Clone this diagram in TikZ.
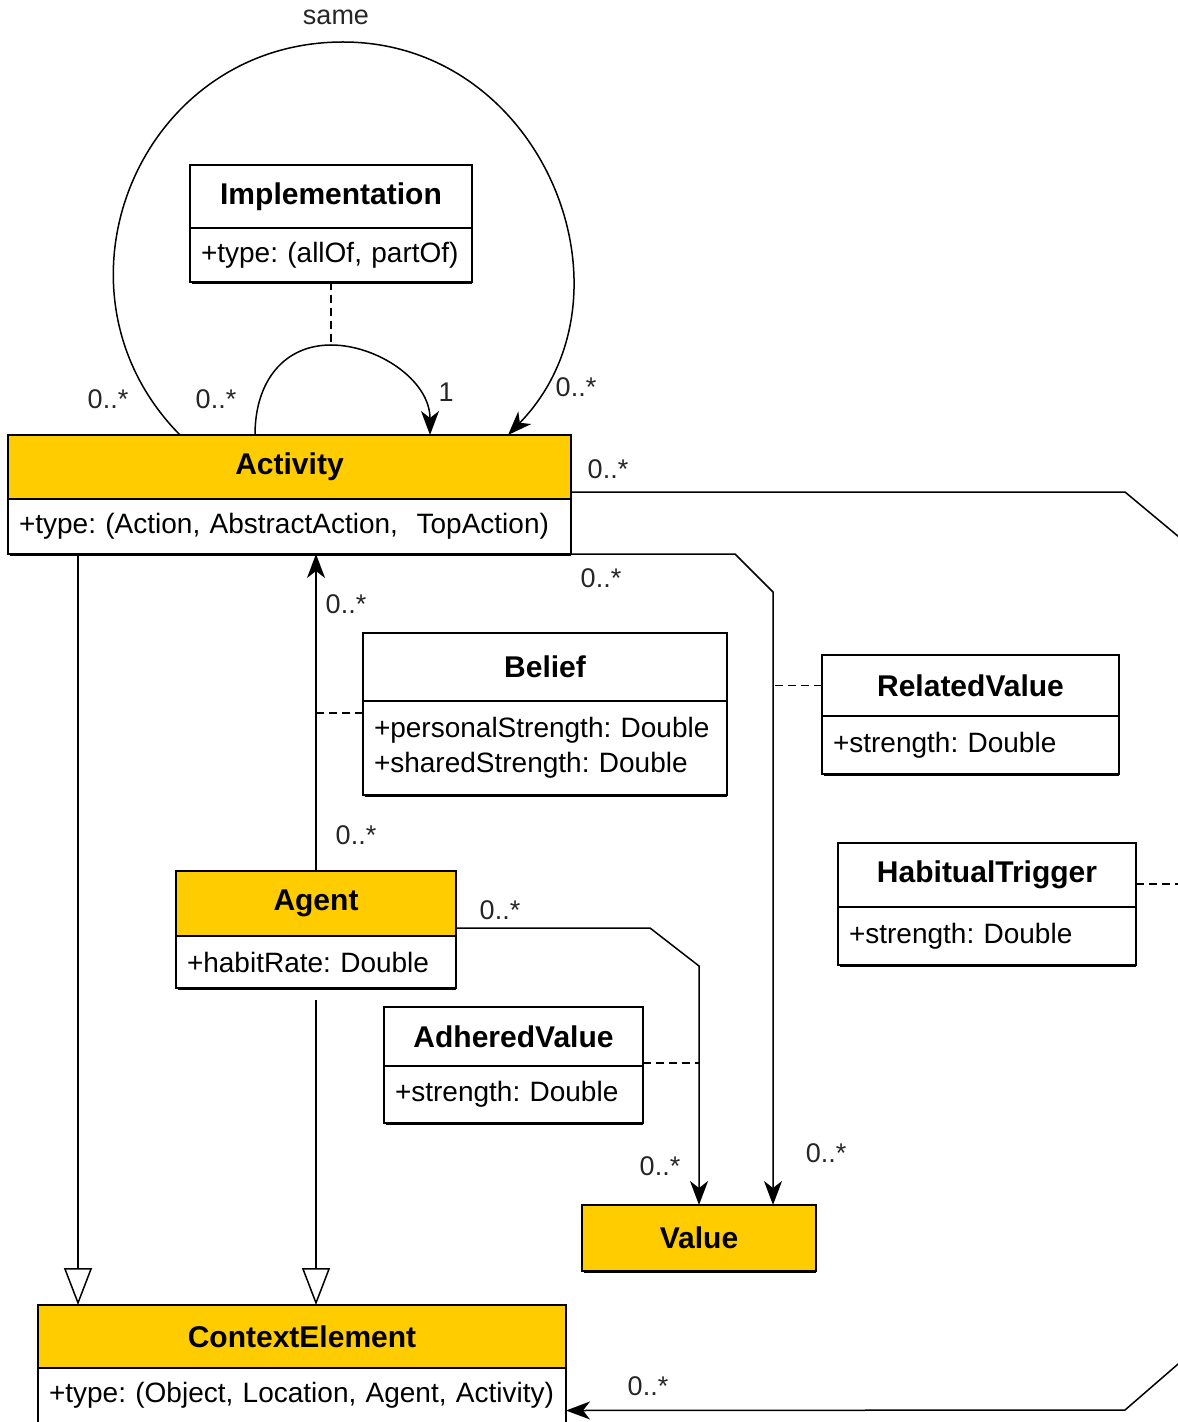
\documentclass[tikz,border=0pt]{standalone}
\usepackage{fontspec}
\setmainfont{Liberation Sans}
\usepackage{tikz}
\usetikzlibrary{arrows.meta,positioning}
\definecolor{clsyellow}{RGB}{255,204,0}

\begin{document}
\begin{tikzpicture}[x=0.5pt,y=-0.5pt,line width=0.75pt,
head/.style n args={3}{draw,line width=1pt,fill=#1,anchor=north west,outer sep=0pt,inner sep=0pt,minimum width=#2,minimum height=#3,font=\fontsize{15}{18}\selectfont\bfseries},
body/.style n args={2}{draw,line width=1pt,fill=white,anchor=north west,outer sep=0pt,inner xsep=5.5pt,inner ysep=0pt,text width=#1,minimum height=#2,align=left,font=\fontsize{14}{17.5}\selectfont\frenchspacing},
mult/.style={font=\fontsize{13.5}{16}\selectfont,text=black!85,inner sep=0pt},
assoc/.style={-{Stealth[length=12pt,width=9pt,inset=3.5pt]}},
gen/.style={-{Triangle[open,length=18.5pt,width=14pt]}},
link/.style={dash pattern=on 4pt off 2.5pt}]
\useasboundingbox (0,0) rectangle (1177,1422);

% classes
\node[head={white}{141pt}{31.5pt}] (impl) at (190,165) {Implementation};
\node[body={130pt}{27pt}] (impl-a) at (impl.south west) {+type: (allOf, partOf)};
\node[head={clsyellow}{281.5pt}{32pt}] (act) at (8,435) {Activity};
\node[body={270.5pt}{27.5pt}] (act-a) at (act.south west) {+type: (Action, AbstractAction,~ TopAction)};
\node[head={white}{182pt}{34pt}] (bel) at (363,633) {Belief};
\node[body={171pt}{47pt}] (bel-a) at (bel.south west) {+personalStrength: Double\\+sharedStrength: Double};
\node[head={white}{148.5pt}{30.5pt}] (rv) at (822,655) {RelatedValue};
\node[body={137.5pt}{29pt}] (rv-a) at (rv.south west) {+strength: Double};
\node[head={white}{149pt}{32pt}] (ht) at (838,843) {HabitualTrigger};
\node[body={138pt}{29pt}] (ht-a) at (ht.south west) {+strength: Double};
\node[head={clsyellow}{140pt}{32.5pt}] (ag) at (176,871) {Agent};
\node[body={129pt}{26pt}] (ag-a) at (ag.south west) {+habitRate: Double};
\node[head={white}{129.5pt}{29.5pt}] (adv) at (384,1007) {AdheredValue};
\node[body={118.5pt}{28.5pt}] (adv-a) at (adv.south west) {+strength: Double};
\node[head={clsyellow}{117pt}{33pt}] (val) at (582,1205) {Value};
\node[head={clsyellow}{264pt}{31.5pt}] (ctx) at (38,1305) {ContextElement};
\node[body={253pt}{27.5pt}] (ctx-a) at (ctx.south west) {+type: (Object, Location, Agent, Activity)};

% heavier bottom edges
\foreach \c in {impl-a,act-a,bel-a,rv-a,ht-a,ag-a,adv-a,val,ctx-a} {
   \draw[line width=1.2pt] ([xshift=1pt,yshift=-0.6pt]\c.south west) -- ([yshift=-0.6pt]\c.south east);
}

% self association of Activity
\coordinate (sametop) at (343,42);
\draw[assoc] ([xshift=86pt]act.north west) .. controls +(-143,-145) and +(-204,0) .. (sametop)
   .. controls +(200,0) and +(136,-140) .. ([xshift=250pt]act.north west);
\node[mult] (same) at (336,17) {same};

% implementation
\coordinate (impltop) at (331,345);
\draw[assoc] ([xshift=123.5pt]act.north west) .. controls +(0,-55) and +(-46,0) .. (impltop)
   .. controls +(46,0) and +(0,-55) .. ([xshift=211pt]act.north west);
\draw[link] (impl-a.south) -- (impltop);
\node[mult] (one) at (446,392) {1};

% generalisations
\coordinate (gen1) at ([xshift=20pt]ctx.north west);
\draw[gen] (gen1 |- act-a.south) -- (gen1);
\draw[gen,shorten <=6pt] (ag-a.south) -- (ag-a.south |- ctx.north);

% Agent -- Activity, Belief
\draw[assoc] (ag.north) -- (ag.north |- act-a.south);
\coordinate (belj) at ([yshift=-6pt]bel-a.north west);
\draw[link] (belj) -- (belj -| ag.north);

% Activity -- Value, RelatedValue
\coordinate (av) at (773,592);
\draw[assoc] (act-a.south east) -- ++(164,0) -- (av) -- (av |- val.north);
\draw[link] (rv.west) -- (rv.west -| av);

% Agent -- Value, AdheredValue
\coordinate (agv) at (699,966);
\draw[assoc] ([yshift=4pt]ag-a.north east) -- ++(194,0) -- (agv) -- (agv |- val.north);
\coordinate (advj) at ([yshift=1.5pt]adv-a.north east);
\draw[link] (advj) -- (advj -| agv);

% Activity -- ContextElement, HabitualTrigger
\coordinate (rgt) at (1185,542);
\draw[assoc] ([yshift=3.5pt]act.south east) -- ++(554,0) -- (rgt) -- (1185,1358) -- (1125,1410)
   -- ([yshift=-7.5pt]ctx-a.east);
\coordinate (htj) at ([yshift=-4.5pt]ht.east);
\draw[link] (htj) -- (htj -| rgt);

% multiplicities
\foreach \x/\y/\n in %
{108/399/a,216/399/b,576/387/c,608/469/d,601/578/e,346/604/f,356/835/g,500/910/h,660/1166/i,826/1153/j,648/1386/k} {
   \node[mult] (m\n) at (\x,\y) {0..*};
}
\end{tikzpicture}
\end{document}
